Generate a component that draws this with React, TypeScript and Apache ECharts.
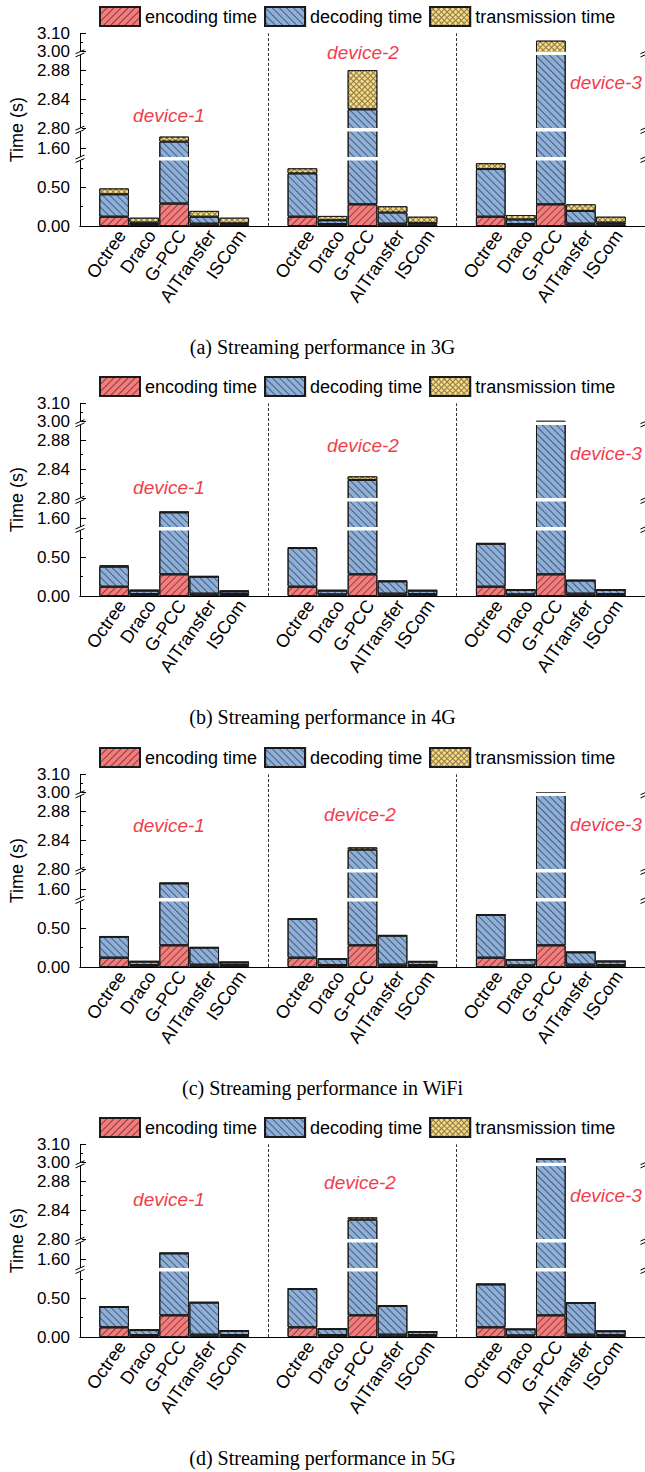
import React, { useEffect, useRef } from "react";
import * as echarts from "echarts";

const METHODS = ["Octree", "Draco", "G-PCC", "AITransfer", "ISCom"];
const DEVICES = ["device-1", "device-2", "device-3"];
const SERIES_NAMES = ["encoding time", "decoding time", "transmission time"];

// values in seconds, [device][method]
const ENC_3G = [[0.12, 0.025, 0.29, 0.03, 0.02], [0.12, 0.025, 0.28, 0.03, 0.02], [0.12, 0.025, 0.28, 0.03, 0.02]];
const DEC_3G = [[0.29, 0.02, 1.4, 0.09, 0.015], [0.56, 0.05, 2.546, 0.145, 0.02], [0.616, 0.06, 2.68, 0.165, 0.025]];
const TRANS_3G = [[0.075, 0.062, 0.064, 0.075, 0.072], [0.065, 0.055, 0.054, 0.08, 0.08], [0.075, 0.057, 0.1, 0.085, 0.075]];

const ENC_4G = [[0.12, 0.025, 0.28, 0.03, 0.025], [0.12, 0.02, 0.28, 0.03, 0.025], [0.12, 0.02, 0.28, 0.03, 0.025]];
const DEC_4G = [[0.26, 0.045, 1.4, 0.22, 0.035], [0.5, 0.05, 2.545, 0.16, 0.045], [0.555, 0.06, 2.71, 0.17, 0.055]];
const TRANS_4G = [[0.015, 0.008, 0.006, 0.006, 0.008], [0.008, 0.006, 0.005, 0.006, 0.006], [0.008, 0.006, 0.015, 0.006, 0.006]];

const ENC_WIFI = [[0.12, 0.025, 0.28, 0.03, 0.025], [0.12, 0.025, 0.28, 0.03, 0.025], [0.12, 0.02, 0.28, 0.03, 0.025]];
const DEC_WIFI = [[0.27, 0.045, 1.4, 0.22, 0.035], [0.5, 0.078, 2.547, 0.375, 0.045], [0.555, 0.075, 2.71, 0.16, 0.048]];
const TRANS_WIFI = [[0.008, 0.005, 0.004, 0.006, 0.005], [0.005, 0.005, 0.003, 0.005, 0.004], [0.005, 0.004, 0.012, 0.004, 0.004]];

const ENC_5G = [[0.125, 0.025, 0.28, 0.03, 0.025], [0.125, 0.025, 0.28, 0.03, 0.025], [0.125, 0.02, 0.28, 0.03, 0.025]];
const DEC_5G = [[0.265, 0.065, 1.4, 0.415, 0.055], [0.495, 0.078, 2.547, 0.373, 0.043], [0.555, 0.08, 2.74, 0.412, 0.05]];
const TRANS_5G = [[0.005, 0.004, 0.004, 0.005, 0.004], [0.004, 0.004, 0.003, 0.005, 0.004], [0.005, 0.003, 0.003, 0.005, 0.004]];

const CAPTIONS = [
  "(a) Streaming performance in 3G",
  "(b) Streaming performance in 4G",
  "(c) Streaming performance in WiFi",
  "(d) Streaming performance in 5G",
];

// broken y axis: real values and their position on a linear "display" scale
const AXIS_REAL = [0, 0.846, 1.49, 1.82, 2.8, 2.901, 3.0, 3.1];
const AXIS_POS = [0, 65.5, 69, 94.5, 97.9, 171.1, 174.3, 192.7];
const BREAK_GAPS = [[0.846, 1.49], [1.82, 2.8], [2.901, 3.0]];
const Y_LABELS = [0, 0.5, 1.6, 2.8, 2.84, 2.88, 3.0, 3.1];
const Y_MINOR = [0.25, 0.75, 2.82, 2.86, 3.05];

// layout
const PANEL_TOPS = [0, 370, 741, 1111];
const DEVICE_LABEL_POS = [
  [[169, 115], [363, 52], [606, 82]],
  [[169, 117], [363, 75], [606, 83]],
  [[169, 84], [360, 73], [606, 83]],
  [[169, 88], [360, 71], [606, 84]],
];
const GROUP_SPAN = 6.27;
const FIRST_OFFSET = 1.135;
const X_MAX = 18.81;
const LABEL_SHIFT = 0.26;
const GRID = { left: 73.5, top: 33.3, width: 573.5, height: 192.7 };

const COLORS = ["#F47C7C", "#8DAFD8", "#8A7A4E"];
const DECALS = [
  { symbol: "rect", symbolSize: 1, color: "rgba(60,25,25,0.6)", dashArrayX: [1, 0], dashArrayY: [0.9, 3.4], rotation: -Math.PI / 4 },
  { symbol: "rect", symbolSize: 1, color: "rgba(25,35,55,0.6)", dashArrayX: [1, 0], dashArrayY: [0.9, 3.4], rotation: Math.PI / 4 },
  { symbol: "rect", symbolSize: 1, color: "#F7DA80", dashArrayX: [2.9, 1], dashArrayY: [2.9, 1], rotation: Math.PI / 4 },
];

function toV(v: number): number {
  const n = AXIS_REAL.length;
  for (let i = 0; i < n - 1; i++) {
    const a = AXIS_REAL[i];
    const b = AXIS_REAL[i + 1];
    if (v <= b || i === n - 2) {
      const t = (v - a) / (b - a);
      return AXIS_POS[i] + t * (AXIS_POS[i + 1] - AXIS_POS[i]);
    }
  }
  return 0;
}

const xOf = (g: number, i: number) => g * GROUP_SPAN + FIRST_OFFSET + i;

function buildOption(p: number) {
  const all = [
    [ENC_3G, DEC_3G, TRANS_3G],
    [ENC_4G, DEC_4G, TRANS_4G],
    [ENC_WIFI, DEC_WIFI, TRANS_WIFI],
    [ENC_5G, DEC_5G, TRANS_5G],
  ][p];
  const slotPx = GRID.width / X_MAX;
  const barW = slotPx - 0.8;
  const seriesData: number[][][] = [[], [], []];
  const gapItems: number[][] = [];
  const labelXs: number[] = [];
  const labelNames: string[] = [];
  for (let g = 0; g < DEVICES.length; g++) {
    for (let i = 0; i < METHODS.length; i++) {
      let cum = 0;
      let prevV = 0;
      for (let s = 0; s < 3; s++) {
        cum += all[s][g][i];
        const v = toV(cum);
        // [value, position] so that the value dimension is the stacked one
        seriesData[s].push([v - prevV, xOf(g, i)]);
        prevV = v;
      }
      BREAK_GAPS.forEach(([lo, hi]) => {
        if (cum > lo) gapItems.push([xOf(g, i), toV(lo), toV(Math.min(hi, cum))]);
      });
      labelXs.push(xOf(g, i) + LABEL_SHIFT);
      labelNames.push(METHODS[i]);
    }
  }
  const axisBreakItems: number[][] = [];
  BREAK_GAPS.forEach(([lo, hi]) => {
    axisBreakItems.push([0, toV(lo), toV(hi)]);
    axisBreakItems.push([X_MAX, toV(lo), toV(hi)]);
  });
  const majorVs = Y_LABELS.map(toV);
  const minorVs = Y_MINOR.map(toV);
  const yFmt = (v: number) => {
    const k = majorVs.findIndex((m) => Math.abs(m - v) < 0.01);
    return k >= 0 ? Y_LABELS[k].toFixed(2) : "";
  };
  const xFmt = (v: number) => {
    const k = labelXs.findIndex((m) => Math.abs(m - v) < 0.001);
    return k >= 0 ? labelNames[k] : "";
  };
  const yMax = AXIS_POS[AXIS_POS.length - 1];

  const bars = SERIES_NAMES.map((name, s) => ({
    type: "bar",
    name,
    stack: "total",
    data: seriesData[s],
    encode: { x: 1, y: 0 },
    barWidth: barW,
    itemStyle: { color: COLORS[s], borderColor: "#1a1a1a", borderWidth: 1, decal: DECALS[s] },
    markLine:
      s === 0
        ? {
            silent: true,
            symbol: "none",
            label: { show: false },
            lineStyle: { color: "#333", type: [3, 2], width: 1 },
            data: [{ xAxis: GROUP_SPAN }, { xAxis: 2 * GROUP_SPAN }],
          }
        : undefined,
  }));

  return {
    animation: false,
    textStyle: { fontFamily: "Liberation Sans" },
    legend: {
      left: 99,
      top: 6,
      itemWidth: 40,
      itemHeight: 19,
      itemGap: 7,
      padding: 0,
      icon: "rect",
      selectedMode: false,
      data: SERIES_NAMES,
      textStyle: { fontSize: 18, color: "#000", fontFamily: "Liberation Sans" },
    },
    grid: { ...GRID },
    xAxis: [
      {
        type: "value",
        min: 0,
        max: X_MAX,
        position: "bottom",
        axisLine: { show: true, lineStyle: { color: "#000", width: 1 } },
        axisTick: { show: false },
        splitLine: { show: false },
        axisLabel: {
          customValues: labelXs,
          formatter: xFmt,
          rotate: 55,
          fontSize: 18,
          color: "#000",
          margin: 6,
          fontFamily: "Liberation Sans",
        },
      },
      {
        type: "value",
        min: 0,
        max: X_MAX,
        position: "top",
        axisLine: { show: true, lineStyle: { color: "#000", width: 1 } },
        axisTick: { show: false },
        axisLabel: { show: false },
        splitLine: { show: false },
      },
    ],
    yAxis: [
      {
        type: "value",
        min: 0,
        max: yMax,
        position: "left",
        name: "Time (s)",
        nameLocation: "middle",
        nameGap: 47,
        nameTextStyle: { fontSize: 18, color: "#000", fontFamily: "Liberation Sans" },
        axisLine: { show: true, lineStyle: { color: "#000", width: 1 } },
        axisTick: { show: true, inside: true, length: 6, customValues: majorVs, lineStyle: { color: "#000" } },
        axisLabel: { customValues: majorVs, formatter: yFmt, fontSize: 17, color: "#000", margin: 10, fontFamily: "Liberation Sans" },
        splitLine: { show: false },
      },
      {
        type: "value",
        min: 0,
        max: yMax,
        position: "left",
        axisLine: { show: false },
        axisTick: { show: true, inside: true, length: 3, customValues: minorVs, lineStyle: { color: "#000" } },
        axisLabel: { show: false },
        splitLine: { show: false },
      },
      {
        type: "value",
        min: 0,
        max: yMax,
        position: "right",
        axisLine: { show: true, lineStyle: { color: "#000", width: 1 } },
        axisTick: { show: false },
        axisLabel: { show: false },
        splitLine: { show: false },
      },
    ],
    series: [
      ...bars,
      {
        type: "custom",
        silent: true,
        z: 5,
        data: gapItems,
        encode: { x: 0, y: [1, 2] },
        renderItem: (params: any, api: any) => {
          const x = api.value(0);
          const p1 = api.coord([x, api.value(1)]);
          const p2 = api.coord([x, api.value(2)]);
          const w = barW + 2;
          return {
            type: "rect",
            shape: { x: p1[0] - w / 2, y: p2[1], width: w, height: p1[1] - p2[1] },
            style: { fill: "#fff" },
          };
        },
      },
      {
        type: "custom",
        silent: true,
        z: 6,
        clip: false,
        data: axisBreakItems,
        encode: { x: 0, y: [1, 2] },
        renderItem: (params: any, api: any) => {
          const x = api.value(0);
          const p1 = api.coord([x, api.value(1)]);
          const p2 = api.coord([x, api.value(2)]);
          const cx = p1[0];
          return {
            type: "group",
            children: [
              { type: "rect", shape: { x: cx - 2, y: p2[1], width: 4, height: p1[1] - p2[1] }, style: { fill: "#fff" } },
              { type: "line", shape: { x1: cx - 4.5, y1: p1[1] + 2, x2: cx + 4.5, y2: p1[1] - 2 }, style: { stroke: "#000", lineWidth: 1 } },
              { type: "line", shape: { x1: cx - 4.5, y1: p2[1] + 2, x2: cx + 4.5, y2: p2[1] - 2 }, style: { stroke: "#000", lineWidth: 1 } },
            ],
          };
        },
      },
    ],
    graphic: [
      ...DEVICE_LABEL_POS[p].map(([x, y], k) => ({
        type: "text",
        x,
        y,
        silent: true,
        style: {
          text: DEVICES[k],
          fill: "#F23D4C",
          font: 'italic 19px "Liberation Sans"',
          align: "center",
          verticalAlign: "middle",
          textAlign: "center",
          textVerticalAlign: "middle",
        },
      })),
      {
        type: "text",
        x: 322.5,
        y: 347,
        silent: true,
        style: {
          text: CAPTIONS[p],
          fill: "#000",
          font: '20px "Liberation Serif"',
          align: "center",
          verticalAlign: "middle",
          textAlign: "center",
          textVerticalAlign: "middle",
        },
      },
    ],
  };
}

function Panel({ index }: { index: number }) {
  const ref = useRef<HTMLDivElement>(null);
  useEffect(() => {
    if (!ref.current) return;
    const chart = echarts.init(ref.current, undefined, { renderer: "svg" });
    chart.setOption(buildOption(index) as any);
    return () => chart.dispose();
  }, [index]);
  return (
    <div
      ref={ref}
      style={{ position: "absolute", left: 0, top: PANEL_TOPS[index], width: 645, height: 370 }}
    />
  );
}

export default function App() {
  return (
    <div style={{ position: "absolute", left: 0, top: 0, width: 645, height: 1472, background: "#fff", overflow: "hidden" }}>
      {CAPTIONS.map((_, i) => (
        <Panel key={i} index={i} />
      ))}
    </div>
  );
}
